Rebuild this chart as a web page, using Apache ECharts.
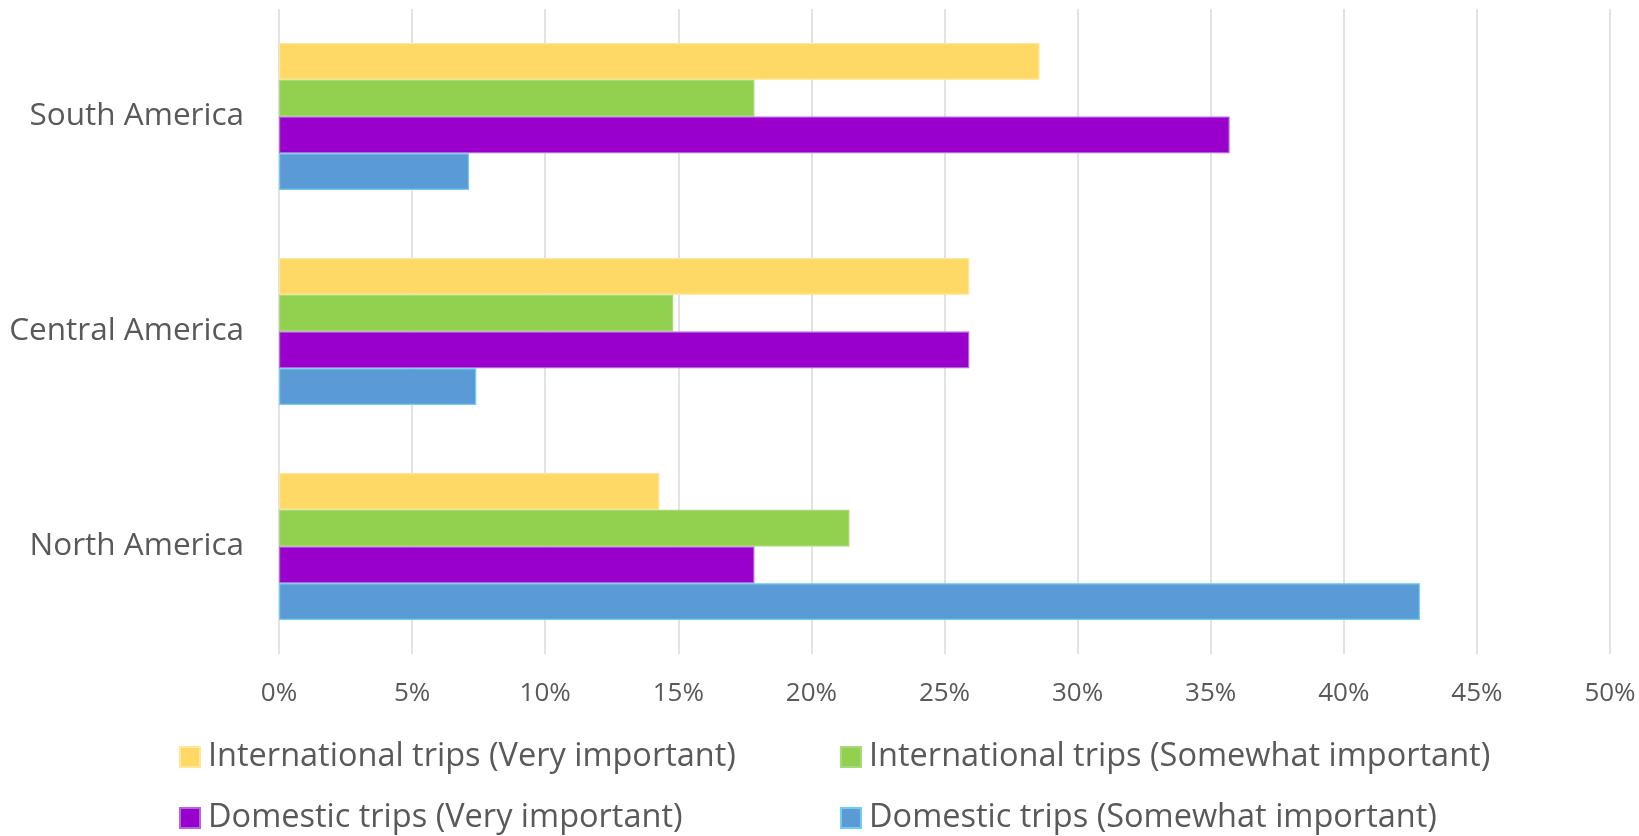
<!DOCTYPE html>
<html>
<head>
<meta charset="utf-8">
<script src="https://cdn.jsdelivr.net/npm/echarts@6/dist/echarts.min.js"></script>
<style>
  html, body { margin: 0; padding: 0; background: #ffffff; }
  #chart { width: 1639px; height: 836px; }
</style>
</head>
<body>
<div id="chart"></div>
<script>
// Regions, listed bottom to top on the category axis
const regions = ['North America', 'Central America', 'South America'];

// Share of respondents (%) per region
const intlVeryImportant     = [14.29, 25.93, 28.57];
const intlSomewhatImportant = [21.43, 14.81, 17.86];
const domVeryImportant      = [17.86, 25.93, 35.71];
const domSomewhatImportant  = [42.86, 7.41, 7.14];

const seriesNames = [
  'International trips (Very important)',
  'International trips (Somewhat important)',
  'Domestic trips (Very important)',
  'Domestic trips (Somewhat important)'
];

const axisTicks = [0, 5, 10, 15, 20, 25, 30, 35, 40, 45, 50];

const FONT = '"Open Sans"';
const TEXT = '#595959';

const chart = echarts.init(document.getElementById('chart'), null, { renderer: 'canvas' });

function barSeries(name, data, color, border) {
  return {
    name: name,
    type: 'bar',
    data: data,
    barGap: '0%',
    barCategoryGap: '31.6%',
    itemStyle: { color: color, borderColor: border, borderWidth: 1.2 },
    emphasis: { disabled: true }
  };
}

// One legend block per entry, laid out as a 2 x 2 table
function legendEntry(name, left, top) {
  return {
    left: left,
    top: top,
    itemWidth: 20,
    itemHeight: 20,
    icon: 'rect',
    data: [name],
    selectedMode: false,
    textStyle: {
      color: TEXT,
      fontFamily: FONT,
      fontSize: 32.5,
      lineHeight: 36,
      padding: [0, 0, 0, 3]
    }
  };
}

chart.setOption({
  backgroundColor: '#ffffff',
  animation: false,
  grid: { left: 279, right: 29, top: 9, bottom: 182, containLabel: false },
  xAxis: {
    type: 'value',
    min: axisTicks[0],
    max: axisTicks[axisTicks.length - 1],
    interval: 5,
    axisLine: { show: false },
    axisTick: { show: false },
    splitLine: { show: true, lineStyle: { color: '#d9d9d9', width: 1.5 } },
    axisLabel: {
      color: TEXT,
      fontFamily: FONT,
      fontSize: 26,
      margin: 27,
      formatter: v => v + '%'
    }
  },
  yAxis: {
    type: 'category',
    data: regions,
    axisLine: { show: false },
    axisTick: { show: false },
    axisLabel: {
      color: TEXT,
      fontFamily: FONT,
      fontSize: 31.5,
      margin: 35,
      padding: [5, 0, 0, 0]
    }
  },
  legend: [
    legendEntry(seriesNames[0], 174, 734),
    legendEntry(seriesNames[1], 835, 734),
    legendEntry(seriesNames[2], 174, 795),
    legendEntry(seriesNames[3], 835, 795)
  ],
  series: [
    barSeries(seriesNames[0], intlVeryImportant, '#ffd966', '#ffe699'),
    barSeries(seriesNames[1], intlSomewhatImportant, '#92d050', '#a8da78'),
    barSeries(seriesNames[2], domVeryImportant, '#9900cc', '#b366dd'),
    barSeries(seriesNames[3], domSomewhatImportant, '#5b9bd5', '#72cdf4')
  ]
});
</script>
</body>
</html>
